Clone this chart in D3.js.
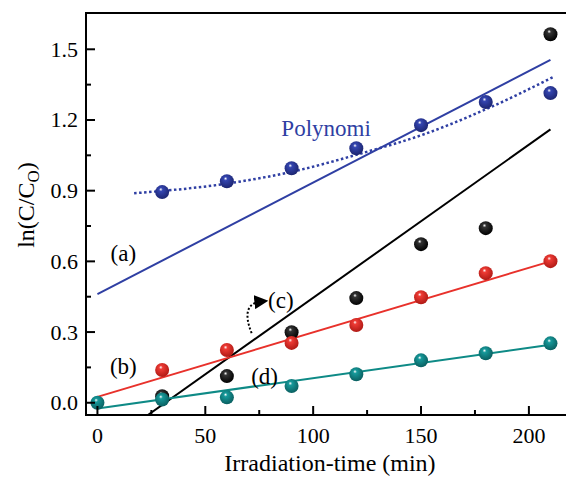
<!DOCTYPE html>
<html>
<head>
<meta charset="utf-8">
<script src="https://cdn.jsdelivr.net/npm/d3@7"></script>
<style>
  body { margin: 0; background: #fff; }
  svg text { font-family: "Liberation Serif", Tinos, "Times New Roman", Times, "Nimbus Roman", "Nimbus Roman No9 L", serif; }
</style>
</head>
<body>
<div id="chart"></div>
<script>
// chart data
var times = [0, 30, 60, 90, 120, 150, 180, 210];
var blueVals = [null, 0.894, 0.94, 0.995, 1.08, 1.178, 1.276, 1.314];
var redVals = [null, 0.139, 0.224, 0.254, 0.33, 0.448, 0.55, 0.601];
var blackVals = [null, 0.028, 0.113, 0.299, 0.444, 0.673, 0.741, 1.564];
var tealVals = [0.0, 0.014, 0.023, 0.071, 0.121, 0.18, 0.21, 0.252];

// fitted lines: [x0, y0, x1, y1]
var blueFit = [0, 0.461, 210, 1.455];
var redFit = [0, 0.025, 210, 0.60];
var blackFit = [23.4, -0.052, 210, 1.16];
var tealFit = [0, -0.024, 210, 0.246];

// polynomial (dotted) curve points
var polyT = [17, 60, 90, 123, 150, 180, 211];
var polyV = [0.889, 0.93, 0.98, 1.06, 1.135, 1.245, 1.381];

var xTicks = [0, 50, 100, 150, 200];
var xMinor = [25, 75, 125, 175];
var yTicks = [0.0, 0.3, 0.6, 0.9, 1.2, 1.5];
var yMinor = [0.15, 0.45, 0.75, 1.05, 1.35];

var svgWidth = 566;
var svgHeight = 484;

var svg = d3.select("#chart")
  .append("svg")
  .attr("width", svgWidth)
  .attr("height", svgHeight);

var x = d3.scaleLinear().domain([-5.3, 217.2]).range([86, 566]);
var y = d3.scaleLinear().domain([-0.052, 1.654]).range([415, 13]);

// sphere gradients
var defs = svg.append("defs");
function sphere(id, base, dark) {
  var g = defs.append("radialGradient")
    .attr("id", id)
    .attr("cx", "45%").attr("cy", "40%").attr("r", "60%")
    .attr("fx", "40%").attr("fy", "30%");
  g.append("stop").attr("offset", "0%").attr("stop-color", "#ffffff");
  g.append("stop").attr("offset", "22%").attr("stop-color", base);
  g.append("stop").attr("offset", "100%").attr("stop-color", dark);
}
sphere("gBlue", "#3445b0", "#1c2570");
sphere("gRed", "#ee3b35", "#b01a15");
sphere("gBlack", "#333333", "#000000");
sphere("gTeal", "#16999a", "#0a5f60");

defs.append("marker")
  .attr("id", "arrow")
  .attr("viewBox", "0 0 10 10")
  .attr("refX", 5).attr("refY", 5)
  .attr("markerWidth", 7).attr("markerHeight", 7)
  .attr("orient", "auto")
  .append("path")
  .attr("d", "M0,0 L10,5 L0,10 z")
  .attr("fill", "#000");

defs.append("clipPath").attr("id", "plotClip")
  .append("rect").attr("x", 86).attr("y", 13).attr("width", 480).attr("height", 402);

var plot = svg.append("g").attr("clip-path", "url(#plotClip)");

// fitted straight lines
function fitLine(f, color, w) {
  plot.append("line")
    .attr("x1", x(f[0])).attr("y1", y(f[1]))
    .attr("x2", x(f[2])).attr("y2", y(f[3]))
    .attr("stroke", color)
    .attr("stroke-width", w);
}
fitLine(blueFit, "#2f3fa3", 2);
fitLine(blackFit, "#000000", 2);
fitLine(redFit, "#e8312b", 2);
fitLine(tealFit, "#0e8a86", 2);

// dotted polynomial
var polyLine = d3.line()
  .x(d => x(d[0]))
  .y(d => y(d[1]))
  .curve(d3.curveMonotoneX);
plot.append("path")
  .datum(polyT.map((t, i) => [t, polyV[i]]))
  .attr("d", polyLine)
  .attr("fill", "none")
  .attr("stroke", "#2f3fa3")
  .attr("stroke-width", 2.5)
  .attr("stroke-dasharray", "2.5,2.5");

// points
function dots(vals, grad) {
  var pts = times.map((t, i) => [t, vals[i]]).filter(d => d[1] !== null);
  plot.selectAll(null)
    .data(pts)
    .enter()
    .append("circle")
    .attr("cx", d => x(d[0]))
    .attr("cy", d => y(d[1]))
    .attr("r", 7)
    .attr("fill", "url(#" + grad + ")");
}
dots(blackVals, "gBlack");
dots(redVals, "gRed");
dots(tealVals, "gTeal");
dots(blueVals, "gBlue");

// frame: left, top, bottom
svg.append("line").attr("x1", 86).attr("x2", 86).attr("y1", 12).attr("y2", 416)
  .attr("stroke", "#000").attr("stroke-width", 2);
svg.append("line").attr("x1", 85).attr("x2", 566).attr("y1", 13).attr("y2", 13)
  .attr("stroke", "#000").attr("stroke-width", 2);
svg.append("line").attr("x1", 85).attr("x2", 566).attr("y1", 415).attr("y2", 415)
  .attr("stroke", "#000").attr("stroke-width", 2);

// ticks (inward)
svg.selectAll(null).data(xTicks).enter().append("line")
  .attr("x1", d => x(d)).attr("x2", d => x(d))
  .attr("y1", 415).attr("y2", 406)
  .attr("stroke", "#000").attr("stroke-width", 2);
svg.selectAll(null).data(xMinor).enter().append("line")
  .attr("x1", d => x(d)).attr("x2", d => x(d))
  .attr("y1", 415).attr("y2", 410)
  .attr("stroke", "#000").attr("stroke-width", 2);
svg.selectAll(null).data(yTicks).enter().append("line")
  .attr("x1", 86).attr("x2", 95)
  .attr("y1", d => y(d)).attr("y2", d => y(d))
  .attr("stroke", "#000").attr("stroke-width", 2);
svg.selectAll(null).data(yMinor).enter().append("line")
  .attr("x1", 86).attr("x2", 91)
  .attr("y1", d => y(d)).attr("y2", d => y(d))
  .attr("stroke", "#000").attr("stroke-width", 2);

// tick labels
svg.selectAll(null).data(xTicks).enter().append("text")
  .attr("x", d => x(d))
  .attr("y", 443)
  .attr("text-anchor", "middle")
  .attr("font-size", 22)
  .text(d => d);
svg.selectAll(null).data(yTicks).enter().append("text")
  .attr("x", 78)
  .attr("y", d => y(d) + 7.5)
  .attr("text-anchor", "end")
  .attr("font-size", 22)
  .text(d => d.toFixed(1));

// axis labels
svg.append("text")
  .attr("x", 330)
  .attr("y", 471)
  .attr("text-anchor", "middle")
  .attr("font-size", 24)
  .text("Irradiation-time (min)");

var yl = svg.append("text")
  .attr("transform", "translate(34,205) rotate(-90)")
  .attr("text-anchor", "middle")
  .attr("font-size", 24);
yl.append("tspan").text("ln(C/C");
yl.append("tspan").attr("font-size", 17).attr("dy", 5).text("O");
yl.append("tspan").attr("dy", -5).text(")");

// annotations
function note(t, v, s, color, size) {
  svg.append("text")
    .attr("x", x(t)).attr("y", y(v))
    .attr("text-anchor", "middle")
    .attr("font-size", size)
    .attr("fill", color)
    .text(s);
}
note(12, 0.6, "(a)", "#000", 23);
note(12, 0.12, "(b)", "#000", 23);
note(85, 0.40, "(c)", "#000", 23);
note(77.5, 0.08, "(d)", "#000", 23);
note(106, 1.13, "Polynomi", "#2f3fa3", 23);

// curved dotted arrow near (c)
svg.append("path")
  .attr("d", `M${x(71.5)},${y(0.295)} Q${x(66)},${y(0.42)} ${x(76)},${y(0.43)}`)
  .attr("fill", "none")
  .attr("stroke", "#000")
  .attr("stroke-width", 2)
  .attr("stroke-dasharray", "2,2")
  .attr("marker-end", "url(#arrow)");
</script>
</body>
</html>
